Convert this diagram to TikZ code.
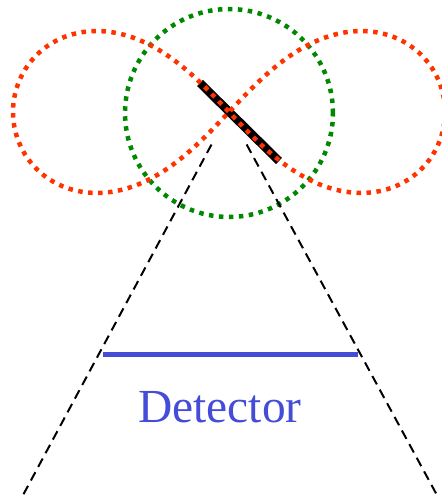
\documentclass[tikz,border=0pt]{standalone}
\usepackage{fontspec}
\setmainfont{Liberation Serif}
\usepackage{xcolor}
\usetikzlibrary{calc}
\definecolor{LobeRed}{RGB}{255,51,0}
\definecolor{RingGreen}{RGB}{0,136,0}
\definecolor{DetBlue}{RGB}{68,76,216}
\tikzset{
  lobeline/.style={draw=LobeRed,line width=0.09cm,
    dash pattern=on 0.09cm off 0.11cm},
  ringline/.style={draw=RingGreen,line width=0.09cm,
    dash pattern=on 0.09cm off 0.11cm},
  sourcebar/.style={draw=black,line width=0.17cm},
  rayline/.style={draw=black,line width=0.04cm,
    dash pattern=on 0.19cm off 0.12cm,shorten <=0.74cm},
  detline/.style={draw=DetBlue,line width=0.1cm},
  detlabel/.style={text=DetBlue,font=\fontsize{27}{32}\selectfont,
    inner sep=0pt,anchor=base},
}

\begin{document}
\begin{tikzpicture}[x=0.02cm,y=-0.02cm]
  \useasboundingbox (0,0) rectangle (442,500);
  % source and detector
  \coordinate (src) at (229,112);
  \coordinate (barA) at (200,83);
  \coordinate (barB) at (279,161);
  \coordinate (rayL) at (22,497);
  \coordinate (rayR) at (438,497);
  \coordinate (detL) at (103,354);
  \coordinate (detR) at (358,354);
  \node[detlabel] (detname) at (220,422) {Detector};
  \draw[sourcebar] (barA) -- (barB);
  \draw[ringline] (src) ++(0,1) circle[radius=2.08cm];
  \draw[lobeline] plot[domain=0:360,samples=240,smooth]
    ({229+216*cos(\x)/(1+sin(\x)^2)},{112+1.06*216*sin(\x)*cos(\x)/(1+sin(\x)^2)});
  \draw[rayline] (src) -- (rayL);
  \draw[rayline] (src) -- (rayR);
  \draw[detline] (detL) -- (detR);
\end{tikzpicture}
\end{document}
